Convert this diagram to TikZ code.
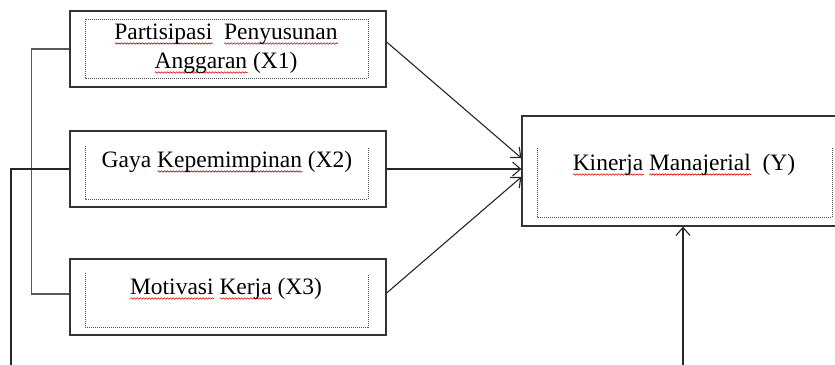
\documentclass[tikz,border=0pt]{standalone}
\usepackage{fontspec}
\setmainfont{Liberation Serif}
\usetikzlibrary{arrows.meta,decorations.pathmorphing}
\newsavebox\sqbox
\newdimen\sqwd
\newcommand\sqw[1]{\sbox\sqbox{#1}\sqwd=\wd\sqbox\rlap{\raisebox{-5.5pt}{\tikz[x=1pt,y=1pt]\draw[red!85!black,line width=0.6pt,decorate,decoration={snake,amplitude=0.7pt,segment length=3pt}] (0,0)--(\sqwd,0);}}\usebox\sqbox}
\begin{document}
\begin{tikzpicture}[x=1pt,y=-1pt,
  box/.style={draw=black!80, line width=1.3pt, minimum width=316pt, minimum height=76pt, inner sep=0pt},
  dot/.style={draw=black!70, line width=0.9pt, dash pattern=on 1pt off 1pt},
  lbl/.style={font=\fontsize{23.5}{29}\selectfont, inner sep=0pt, anchor=base, align=center},
  con/.style={draw=black!85, line width=1.1pt},
  arr/.style={con, -{Straight Barb[length=8pt,width=14pt,line width=1.1pt]}}]
\useasboundingbox (0,0) rectangle (835,364);
\clip (0,0) rectangle (835,364);
\node[box] (x1) at (228,49) {};
\node[box] (x2) at (228,169) {};
\node[box] (x3) at (228,297) {};
\node[box, minimum width=322pt, minimum height=110pt] (y) at (683,171) {};
\draw[dot] (85,19) rectangle (368,78);
\draw[dot] (85,146) |- (368,199) -- (368,147);
\draw[dot] (85,273) |- (368,327) -- (368,275);
\draw[dot] (537,148) |- (832,217) -- (832,148);
\node[lbl] (t1) at (226,68) {\sqw{Partisipasi}\ \ \sqw{Penyusunan}\\\sqw{Anggaran} (X1)};
\node[lbl] (t2) at (227,167) {Gaya \sqw{Kepemimpinan} (X2)};
\node[lbl] (t3) at (226,294) {\sqw{Motivasi} \sqw{Kerja} (X3)};
\node[lbl] (ty) at (684,170) {\sqw{Kinerja} \sqw{Manajerial}\ \ (Y)};
\draw[arr] ([yshift=7pt]x1.east) -- ([yshift=13pt]y.west);
\draw[arr] (x2.east) -- (x2.east -| y.west);
\draw[arr] ([yshift=4pt]x3.east) -- ([yshift=-6pt]y.west);
\draw[con, draw=black!65] (x1.west) -- ++(-38,0) |- ([yshift=3pt]x3.west);
\coordinate (b) at (11,375);
\draw[arr] (x2.west) -| (b) -| (y.south);
\end{tikzpicture}
\end{document}
